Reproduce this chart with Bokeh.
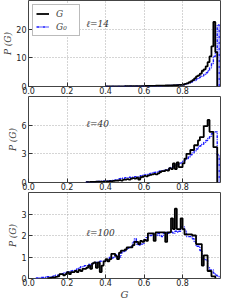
import numpy as np
from bokeh.plotting import figure
from bokeh.layouts import column
from bokeh.models import Legend, LegendItem, FixedTicker, Label
from bokeh.embed import file_html
from bokeh.resources import INLINE

# ---------------- data (histograms, bin width 0.01) ----------------
BIN_WIDTH = 0.01
x_ticks = [0.0, 0.2, 0.4, 0.6, 0.8]

# l = 14
l14_start = 0.40
l14_G = [0.05] * 10 + [0.1] * 10 + \
    [0.2, 0.2, 0.2, 0.25, 0.25, 0.25, 0.3, 0.3, 0.3, 0.3] + \
    [0.3, 0.35, 0.35, 0.4, 0.4, 0.45, 0.5, 0.5, 0.55, 0.6] + \
    [0.7, 0.9, 1.1, 1.4, 1.8, 2.2, 2.8, 3.5, 3.9, 4.5] + \
    [5.5, 6.0, 7.0, 8.5, 10.5, 14.0, 22.5, 12.0]
l14_G0 = [0.05] * 10 + [0.08] * 10 + [0.15] * 10 + \
    [0.3, 0.3, 0.35, 0.35, 0.4, 0.4, 0.45, 0.5, 0.5, 0.55] + \
    [0.6, 0.8, 1.0, 1.2, 1.5, 1.8, 2.1, 2.5, 3.0, 3.3] + \
    [3.7, 4.2, 4.8, 5.5, 6.5, 8.0, 10.5, 12.0, 21.5]
l14_yticks = [0, 10, 20]

# l = 40
l40_start = 0.30
l40_G = [0.03, 0.03, 0.05, 0.05, 0.05, 0.08, 0.08, 0.1, 0.1, 0.1] + \
    [0.12, 0.12, 0.15, 0.15, 0.18, 0.2, 0.2, 0.25, 0.2, 0.3] + \
    [0.3, 0.35, 0.3, 0.4, 0.45, 0.4, 0.5, 0.3, 0.55, 0.6] + \
    [0.7, 0.65, 0.75, 0.8, 0.85, 0.9, 0.85, 0.95, 1.1, 1.2] + \
    [1.2, 1.3, 1.25, 1.5, 1.4, 2.0, 1.4, 2.1, 1.6, 1.6] + \
    [2.0, 2.5, 3.0, 3.0, 3.4, 3.4, 3.9, 3.9, 4.4, 4.75] + \
    [4.75, 5.9, 5.9, 6.55, 5.3, 5.3, 3.7, 3.7]
l40_G0 = [0.05, 0.05, 0.06, 0.07, 0.08, 0.1, 0.1, 0.12, 0.13, 0.15] + \
    [0.17, 0.18, 0.2, 0.22, 0.25, 0.27, 0.3, 0.4, 0.45, 0.45] + \
    [0.5, 0.5, 0.55, 0.5, 0.55, 0.6, 0.6, 0.6, 0.7, 0.75] + \
    [0.8, 0.85, 0.9, 0.95, 1.0, 1.05, 1.1, 1.15, 1.2, 1.2] + \
    [1.25, 1.3, 1.4, 1.5, 1.6, 1.7, 1.8, 1.9, 1.95, 2.05] + \
    [2.2, 2.35, 2.5, 2.7, 2.9, 3.1, 3.3, 3.5, 3.7, 3.85] + \
    [4.0, 4.2, 4.4, 4.6, 4.8, 5.1, 5.3, 5.3, 2.9]
l40_yticks = [0, 3, 6]

# l = 100
l100_G_start = 0.10
l100_G = [0.02, 0.03, 0.05, 0.05, 0.08, 0.1, 0.2, 0.2, 0.15, 0.2] + \
    [0.3, 0.2, 0.3, 0.3, 0.35, 0.3, 0.4, 0.35, 0.45, 0.45] + \
    [0.5, 0.6, 0.45, 0.7, 0.75, 0.5, 0.75, 0.3, 0.6, 0.8] + \
    [0.9, 0.8, 0.9, 1.15, 1.15, 1.05, 0.9, 1.2, 1.3, 1.3] + \
    [1.35, 1.45, 1.45, 1.45, 1.55, 1.7, 1.7, 1.6, 1.75, 1.7] + \
    [1.8, 1.75, 2.1, 2.1, 2.1, 1.75, 2.15, 2.15, 2.15, 2.15] + \
    [2.15, 1.7, 2.15, 2.15, 2.8, 2.3, 3.25, 2.3, 2.3, 2.8] + \
    [2.3, 2.05, 2.05, 2.05, 2.05, 2.0, 2.0, 1.6, 1.6, 1.6] + \
    [0.6, 1.08, 1.08, 0.35, 0.35, 0.1, 0.1]
l100_G0_start = 0.04
l100_G0 = [0.02, 0.03, 0.05, 0.05, 0.06, 0.08] + \
    [0.08, 0.08, 0.1, 0.12, 0.15, 0.15, 0.2, 0.22, 0.25, 0.28] + \
    [0.3, 0.32, 0.35, 0.38, 0.4, 0.45, 0.5, 0.55, 0.55, 0.6] + \
    [0.6, 0.65, 0.6, 0.7, 0.75, 0.75, 0.7, 0.8, 0.8, 0.8] + \
    [0.85, 0.9, 1.0, 0.95, 1.0, 1.1, 1.1, 1.0, 1.2, 1.25] + \
    [1.3, 1.4, 1.45, 1.5, 1.7, 1.85, 1.6, 1.55, 1.6, 1.6] + \
    [1.8, 1.9, 2.0, 2.0, 2.05, 2.05, 2.0, 2.1, 2.0, 1.95] + \
    [2.1, 2.15, 2.1, 2.15, 2.15, 2.1, 2.2, 2.15, 2.2, 2.4] + \
    [2.4, 2.2, 1.95, 1.95, 1.95, 1.85, 1.7, 1.5, 1.5, 1.3] + \
    [0.9, 0.9, 0.85, 0.5, 0.4, 0.4, 0.25, 0.15, 0.1]
l100_yticks = [0, 1, 2, 3]

panels = [
    dict(label="\u2113=14", G=(l14_start, l14_G), G0=(l14_start, l14_G0),
         ymax=30, yticks=l14_yticks, label_y=21.7),
    dict(label="\u2113=40", G=(l40_start, l40_G), G0=(l40_start, l40_G0),
         ymax=9, yticks=l40_yticks, label_y=6.1),
    dict(label="\u2113=100", G=(l100_G_start, l100_G), G0=(l100_G0_start, l100_G0),
         ymax=4, yticks=l100_yticks, label_y=2.1),
]

SERIF = "DejaVu Serif"
SANS = "DejaVu Sans"


def outline(start, vals):
    vals = np.asarray(vals, dtype=float)
    edges = start + BIN_WIDTH * np.arange(len(vals) + 1)
    xs = np.repeat(edges, 2)
    ys = np.concatenate([[0.0], np.repeat(vals, 2), [0.0]])
    return xs, ys


figs = []
for i, pd_ in enumerate(panels):
    last = i == len(panels) - 1
    p = figure(width=None, height=None, frame_width=192, frame_height=86,
               x_range=(0, 0.997), y_range=(0, pd_["ymax"]),
               output_backend="svg", toolbar_location=None,
               min_border_left=24, min_border_right=12,
               min_border_top=0, min_border_bottom=0,
               background_fill_color="white", border_fill_color="white")
    p.outline_line_color = "#444444"
    p.outline_line_width = 1

    for ax in (p.xaxis[0], p.yaxis[0]):
        ax.axis_line_color = None
        ax.major_tick_in = 4
        ax.major_tick_out = 0
        ax.minor_tick_line_color = None
        ax.major_tick_line_color = "#333333"
        ax.major_label_text_font = SANS
        ax.major_label_text_font_size = "8px"
        ax.major_label_text_color = "#222222"
    p.xaxis.ticker = FixedTicker(ticks=x_ticks)
    p.xaxis.major_label_overrides = {t: f"{t:.1f}" for t in x_ticks}
    p.xaxis.major_label_standoff = 0
    p.yaxis.ticker = FixedTicker(ticks=pd_["yticks"])
    p.yaxis.major_label_standoff = 2

    p.yaxis.axis_label = "P (G)"
    p.yaxis.axis_label_text_font = SERIF
    p.yaxis.axis_label_text_font_style = "italic"
    p.yaxis.axis_label_text_font_size = "9px"
    p.yaxis.axis_label_standoff = 0
    if last:
        p.xaxis.axis_label = "G"
        p.xaxis.axis_label_text_font = SERIF
        p.xaxis.axis_label_text_font_style = "italic"
        p.xaxis.axis_label_text_font_size = "10px"
        p.xaxis.axis_label_standoff = 0

    p.xgrid.ticker = FixedTicker(ticks=x_ticks[1:])
    p.ygrid.ticker = FixedTicker(ticks=pd_["yticks"][1:])
    for g in (p.xgrid[0], p.ygrid[0]):
        g.grid_line_color = "#aaaaaa"
        g.grid_line_dash = "1 2"
        g.grid_line_width = 1

    xs0, ys0 = outline(*pd_["G0"])
    r0 = p.line(xs0, ys0, line_color="#1a1aff", line_width=1.4, line_dash="3 1 1 1")
    xs, ys = outline(*pd_["G"])
    r1 = p.line(xs, ys, line_color="black", line_width=1.8)

    p.add_layout(Label(x=0.30, y=pd_["label_y"], text=pd_["label"],
                       text_font=SERIF, text_font_style="italic",
                       text_font_size="9px", text_baseline="middle",
                       text_color="#333333"))

    if i == 0:
        leg = Legend(items=[LegendItem(label="G", renderers=[r1]),
                            LegendItem(label="G\u2080", renderers=[r0])],
                     location="top_left")
        leg.label_text_font = SERIF
        leg.label_text_font_style = "italic"
        leg.label_text_font_size = "9px"
        leg.glyph_width = 13
        leg.glyph_height = 11
        leg.label_height = 11
        leg.spacing = 2
        leg.padding = 3
        leg.margin = 4
        leg.label_standoff = 7
        leg.border_line_color = "#777777"
        leg.border_line_width = 1
        leg.background_fill_alpha = 1.0
        p.add_layout(leg)
    figs.append(p)

layout = column(*figs, spacing=0)
open("out.html", "w").write(file_html(layout, INLINE))
